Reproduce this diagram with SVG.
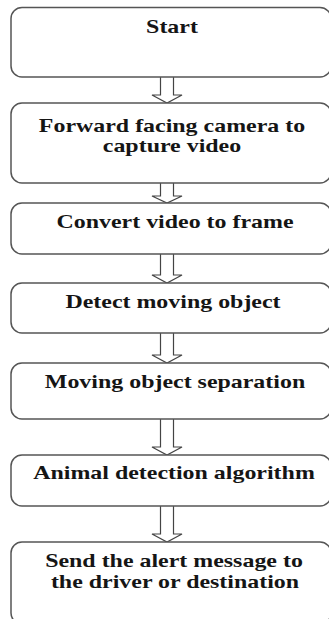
<svg xmlns="http://www.w3.org/2000/svg" width="329" height="619" viewBox="0 0 329 619">
<style>
.box{fill:#fff;stroke:#555;stroke-width:1.5}
.arr{fill:#fff;stroke:#444;stroke-width:1.2;stroke-linejoin:miter}
.t{font-family:"Liberation Serif","Times New Roman",serif;font-weight:bold;font-size:18px;fill:#151515;text-anchor:middle}
</style>
<rect width="329" height="619" fill="#fff"/>
<g id="connectors">
<path class="arr" d="M160.5,77 V95 H152 L167,103 L182,95 H173.5 V77"/>
<path class="arr" d="M160.5,183 V196 H152 L167,203 L182,196 H173.5 V183"/>
<path class="arr" d="M160.5,254 V275 H152 L167,283 L182,275 H173.5 V254"/>
<path class="arr" d="M160.5,333 V355 H152 L167,363 L182,355 H173.5 V333"/>
<path class="arr" d="M160.5,419 V447 H152 L167,455 L182,447 H173.5 V419"/>
<path class="arr" d="M160.5,506 V534 H152 L167,542 L182,534 H173.5 V506"/>
</g>
<g id="start">
<rect class="box" x="11" y="7.5" width="320" height="69.5" rx="11"/>
<text class="t" transform="translate(172,33) scale(1.33,1)">Start</text>
</g>
<g id="capture">
<rect class="box" x="11" y="103" width="320" height="80" rx="11"/>
<text class="t" transform="translate(172,131.5) scale(1.33,1)">Forward facing camera to</text>
<text class="t" transform="translate(172,151.5) scale(1.33,1)">capture video</text>
</g>
<g id="convert">
<rect class="box" x="11" y="203" width="320" height="51" rx="11"/>
<text class="t" transform="translate(175,228) scale(1.33,1)">Convert video to frame</text>
</g>
<g id="detect">
<rect class="box" x="11" y="283" width="320" height="50" rx="11"/>
<text class="t" transform="translate(173,308) scale(1.33,1)">Detect moving object</text>
</g>
<g id="separation">
<rect class="box" x="11" y="363" width="320" height="56" rx="11"/>
<text class="t" transform="translate(175,388) scale(1.33,1)">Moving object separation</text>
</g>
<g id="animal">
<rect class="box" x="11" y="455" width="320" height="51" rx="11"/>
<text class="t" transform="translate(174,479) scale(1.33,1)">Animal detection algorithm</text>
</g>
<g id="alert">
<rect class="box" x="11" y="542" width="320" height="82" rx="11"/>
<text class="t" transform="translate(174,567) scale(1.33,1)">Send the alert message to</text>
<text class="t" transform="translate(175,588) scale(1.33,1)">the driver or destination</text>
</g>
</svg>
